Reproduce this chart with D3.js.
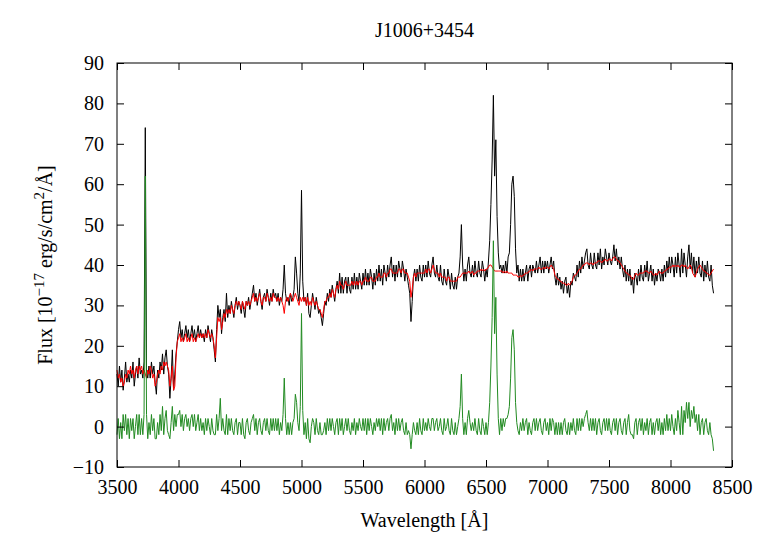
<!DOCTYPE html>
<html>
<head>
<meta charset="utf-8">
<script src="https://cdn.jsdelivr.net/npm/d3@7"></script>
<style>
  body { margin: 0; background: #fff; }
  text { font-family: "Liberation Serif", "Times New Roman", serif; fill: #000; }
</style>
</head>
<body>
<div id="chart"></div>
<script>
// spectrum sampled every 10 A from 3500 to 8350
var waveStart = 3500, waveStep = 10;

// observed flux (black), one row per 100 A
var fluxObs = [
  13,10,15,11,14,9,12,16,11,13,
  11,14,12,16,10,13,15,12,17,13,
  14,12,16,74,14,12,15,12,16,13,
  15,11,8,14,12,16,14,18,13,17,
  19,15,13,7,12,19,9,13,18,21,
  24,26,22,24,21,23,25,22,24,21,
  23,25,22,24,21,23,25,22,24,22,
  23,21,24,22,25,23,21,24,22,19,
  16,24,30,27,29,23,27,29,26,33,
  27,30,28,31,29,27,30,32,29,31,
  30,28,31,29,27,31,30,32,29,31,
  33,35,31,33,30,32,34,31,29,32,
  33,31,34,32,30,33,31,34,32,33,
  31,33,30,32,31,34,40,33,31,32,
  30,33,31,32,34,42,38,33,31,38,
  58.5,36,31,32,30,33,28,27,30,33,
  31,29,32,30,28,29,27,25,28,31,
  30,33,31,34,32,35,33,31,34,36,
  33,38,33,37,33,36,37,33,37,34,
  33,37,34,38,34,37,34,38,36,34,
  38,35,39,35,38,35,39,37,34,38,
  35,39,36,40,36,39,35,40,38,36,
  40,37,40,42,37,40,36,40,37,41,
  39,37,41,39,36,39,37,35,33,26,
  31,37,39,36,39,36,40,37,36,40,
  37,40,37,41,38,37,40,42,38,37,
  40,37,36,40,36,35,39,36,35,39,
  37,34,38,35,34,37,34,37,38,42,
  50,40,36,39,36,40,42,38,37,40,
  37,41,38,37,41,38,37,41,39,36,
  39,37,41,46,55,66,82,62,71,52,
  43,39,40,38,40,38,41,38,42,43,
  50,60,62,57,44,38,40,36,39,36,
  39,36,38,40,36,39,40,37,40,39,
  38,41,38,40,42,38,41,38,41,39,
  41,38,40,42,39,41,37,35,38,35,
  37,34,36,33,36,37,33,35,32,36,
  35,38,37,36,40,37,41,38,42,39,
  41,43,44,40,39,43,40,39,43,40,
  39,43,40,44,39,42,40,44,42,40,
  43,41,40,42,45,41,44,40,42,39,
  42,39,37,40,36,39,36,39,35,37,
  33,38,37,35,39,36,40,37,36,40,
  37,41,36,38,40,36,39,35,38,36,
  39,38,36,39,36,40,37,41,38,42,
  38,42,40,37,42,38,43,40,37,44,
  38,43,40,37,42,45,39,43,38,42,
  37,41,38,42,38,37,41,36,40,37,
  41,37,36,40,35,33
];

// fitted stellar model (red)
var fluxModel = [
  14,12,13,11,12,10,11,13,12,14,
  13,15,13,14,12,14,15,13,15,14,
  15,13,14,13,12,14,13,15,14,12,
  13,10,11,13,14,13,15,14,16,15,
  16,15,14,10,12,15,9,10,17,21,
  22,23,21,22,21,22,23,21,22,21,
  22,23,21,22,21,22,23,22,23,22,
  23,22,23,22,24,23,22,23,22,20,
  17,22,27,26,27,24,26,28,27,29,
  28,29,28,30,29,28,30,31,30,31,
  30,29,31,30,29,31,30,31,30,31,
  32,33,31,32,31,32,33,31,30,32,
  32,31,33,32,31,32,31,33,32,32,
  31,32,31,32,31,30,28,31,32,31,
  32,33,32,31,32,33,32,31,30,32,
  31,32,31,32,30,32,30,31,30,32,
  31,30,31,30,29,29,28,27,29,31,
  31,32,32,33,32,34,33,32,34,35,
  34,36,35,35,34,35,36,35,35,35,
  35,36,35,36,35,36,35,36,36,35,
  36,36,37,36,36,36,37,37,36,36,
  36,37,37,38,37,37,37,38,38,37,
  38,38,39,39,38,38,38,38,38,39,
  39,38,39,39,38,38,38,37,36,32,
  34,37,38,37,38,38,38,38,38,38,
  38,39,38,39,39,38,39,40,39,38,
  38,38,37,38,37,37,37,37,36,37,
  37,36,36,36,36,36,36,37,37,37,
  37.5,38,38,38,38,38,38.5,38,38,38.5,
  37.5,38,38,38.5,38.5,38.5,39,38.5,39,38.5,
  39,39,39.5,40,40,39.5,39,38.5,38.5,38.5,
  38.5,38.5,38.5,38.5,38,38.5,38,38.5,38,38,
  38,38,37.5,37.5,37.5,37.5,37,37,37.5,37,
  37.5,37.5,38,38,38,38.5,38.5,39,38.5,39,
  39,39,39,39.5,39,39,39,39.5,39,39.5,
  39.5,39,39.5,40,39.5,39,37.5,37,36.5,36.5,
  36,36,35.5,35.5,35.5,35,35,35.5,35,35.5,
  36,37,37.5,37.5,38,38.5,39,39,39.5,40,
  40,40.5,40.5,40.5,40,40.5,40.5,40,40.5,40.5,
  40.5,41,41,41,40.5,41,41,41.5,41,41,
  41.5,41.5,41,41.5,42,42,41.5,41,41,40.5,
  40,39.5,39,38.5,38,38,37.5,37.5,37,36.5,
  36.5,37.5,38,37.5,37.5,38,38,38,38,38.5,
  38.5,38.5,38,38,38.5,38,37.5,37.5,38,37.5,
  38,38.5,38,38,38,38.5,38.5,39,39,39.5,
  39.5,39.5,40,39.5,40,39.5,40,39.5,39.5,40,
  40,39.5,40,39.5,39,39.5,40,39.5,38,37.5,
  37,38,39,39.5,40,39.5,39,38.5,38.5,38,
  38,37.5,37.5,38,38.5,39
];

// residual emission (green)
var fluxResid = [
  -2,2,-3,1,-3,3,-1,3,-2,2,
  -3,2,-1,2,-3,0,3,-2,3,-2,
  2,-2,3,62,3,-3,1,-2,3,-1,
  2,-3,-3,1,-2,3,-1,5,-2,2,
  4,-1,-2,-3,1,5,-1,3,0,3,
  3,4,0,3,-1,2,3,0,2,-1,
  2,3,0,3,-1,1,3,-1,2,-1,
  1,-2,2,-1,2,0,-2,2,-1,-2,
  -2,3,-1,2,7,-1,2,-1,-2,3,
  -2,2,-1,2,-1,-2,1,2,-2,1,
  1,-2,2,-2,-3,1,2,-1,-2,1,
  2,3,-1,2,-2,1,2,-1,-2,1,
  2,-1,2,-1,-2,2,-1,2,-1,2,
  -1,2,-2,1,-1,3,12,2,-2,1,
  -2,1,-2,1,2,8,6,1,-1,5,
  28,4,-2,1,-3,2,-3,-4,0,2,
  1,-2,2,-1,-2,1,-2,-2,-1,1,
  -2,2,-1,2,-1,2,0,-2,1,2,
  -2,2,-1,2,-2,0,2,-1,2,-1,
  -2,1,-1,2,-2,1,-1,2,0,-1,
  2,-1,2,-2,2,-1,2,0,-2,1,
  -1,2,0,2,-1,2,-2,2,-1,1,
  2,-1,2,3,-1,1,-2,2,-1,2,
  -1,1,2,-1,-2,1,-2,-1,-2,-5.5,
  -2,1,-1,-2,1,-2,2,-1,-2,2,
  -1,1,-1,2,0,-1,2,2,-1,1,
  2,-1,0,2,-1,-2,2,-1,0,2,
  -1,-2,2,-1,-2,1,-2,0,2,5,
  13,2,-2,1,-2,2,4,1,-1,1,
  -1,2,-1,-2,2,-1,-2,2,0,-2,
  1,-2,1,6,15,27,46,23,32,13,
  2,-2,2,-1,2,0,2,2,3,5,
  12,22,24,19,6,1,-1,-2,1,-1,
  2,-1,1,2,-2,1,-1,-2,1,2,
  -1,2,-1,1,2,-1,-2,1,2,-1,
  1,-2,2,-1,2,1,-2,1,-2,1,
  -2,1,-2,1,2,-1,-2,1,-2,1,
  -1,2,-1,-2,2,-1,2,-1,2,0,
  2,3,4,1,-1,2,-1,2,-1,2,
  -2,1,2,-1,-2,1,2,-1,2,-1,
  2,-1,-2,1,2,-1,2,-2,1,2,
  -1,-2,1,2,-2,1,3,-1,-2,-2,
  -3,1,2,-2,1,2,-1,2,-2,1,
  -1,2,-2,1,2,-2,1,-2,1,2,
  -1,2,-2,1,-2,2,-1,3,-1,2,
  -1,3,0,-2,2,-1,4,1,-2,5,
  -2,4,1,6,2,6,0,4,2,5,
  1,3,-1,3,-2,1,2,-2,1,2,
  -1,-2,1,-2,-3,-6
];

var xTicks = [3500,4000,4500,5000,5500,6000,6500,7000,7500,8000,8500];
var yTicks = [-10,0,10,20,30,40,50,60,70,80,90];

var width = 764, height = 535;
var mLeft = 117, mRight = 732, mTop = 63, mBottom = 467;

var svg = d3.select("#chart").append("svg")
  .attr("width", width)
  .attr("height", height);

var x = d3.scaleLinear().domain([3500, 8500]).range([mLeft, mRight]);
var y = d3.scaleLinear().domain([-10, 90]).range([mBottom, mTop]);

function wave(i) { return waveStart + i * waveStep; }

var line = d3.line()
  .x(function(d, i) { return x(wave(i)); })
  .y(function(d) { return y(d); });

var plot = svg.append("g");
plot.append("path").datum(fluxObs)
  .attr("d", line).attr("fill", "none")
  .attr("stroke", "#000").attr("stroke-width", 1);
plot.append("path").datum(fluxModel)
  .attr("d", line).attr("fill", "none")
  .attr("stroke", "#ff0000").attr("stroke-width", 1);
plot.append("path").datum(fluxResid)
  .attr("d", line).attr("fill", "none")
  .attr("stroke", "#228b22").attr("stroke-width", 1);

// axes, ticks inward on all sides
var fmt = d3.format("d");
var ax = svg.append("g").attr("transform", "translate(0," + mBottom + ")")
  .call(d3.axisBottom(x).tickValues(xTicks).tickFormat(fmt).tickSize(-7).tickSizeOuter(0).tickPadding(13));
var ay = svg.append("g").attr("transform", "translate(" + mLeft + ",0)")
  .call(d3.axisLeft(y).tickValues(yTicks).tickFormat(fmt).tickSize(-7).tickSizeOuter(0).tickPadding(13));
var at = svg.append("g").attr("transform", "translate(0," + mTop + ")")
  .call(d3.axisTop(x).tickValues(xTicks).tickSize(-7).tickSizeOuter(0).tickFormat(""));
var ar = svg.append("g").attr("transform", "translate(" + mRight + ",0)")
  .call(d3.axisRight(y).tickValues(yTicks).tickSize(-7).tickSizeOuter(0).tickFormat(""));

[ax, ay, at, ar].forEach(function(a) {
  a.select(".domain").remove();
  a.selectAll("line").attr("stroke", "#000");
  a.selectAll("text")
    .style("font-family", "'Liberation Serif', serif")
    .style("font-size", "20px");
});

svg.append("rect")
  .attr("x", mLeft).attr("y", mTop)
  .attr("width", mRight - mLeft).attr("height", mBottom - mTop)
  .attr("fill", "none").attr("stroke", "#000").attr("stroke-width", 1);

svg.append("text")
  .attr("x", (mLeft + mRight) / 2).attr("y", 37)
  .attr("text-anchor", "middle")
  .style("font-size", "20px")
  .text("J1006+3454");

svg.append("text")
  .attr("x", (mLeft + mRight) / 2).attr("y", 527)
  .attr("text-anchor", "middle")
  .style("font-size", "20px")
  .text("Wavelength [Å]");

var yl = svg.append("text")
  .attr("transform", "translate(52," + ((mTop + mBottom) / 2) + ") rotate(-90)")
  .attr("text-anchor", "middle")
  .style("font-size", "20px");
yl.append("tspan").text("Flux [10");
yl.append("tspan").attr("dy", -8).style("font-size", "15px").text("−17");
yl.append("tspan").attr("dy", 8).text(" erg/s/cm");
yl.append("tspan").attr("dy", -8).style("font-size", "15px").text("2");
yl.append("tspan").attr("dy", 8).text("/Å]");
</script>
</body>
</html>
